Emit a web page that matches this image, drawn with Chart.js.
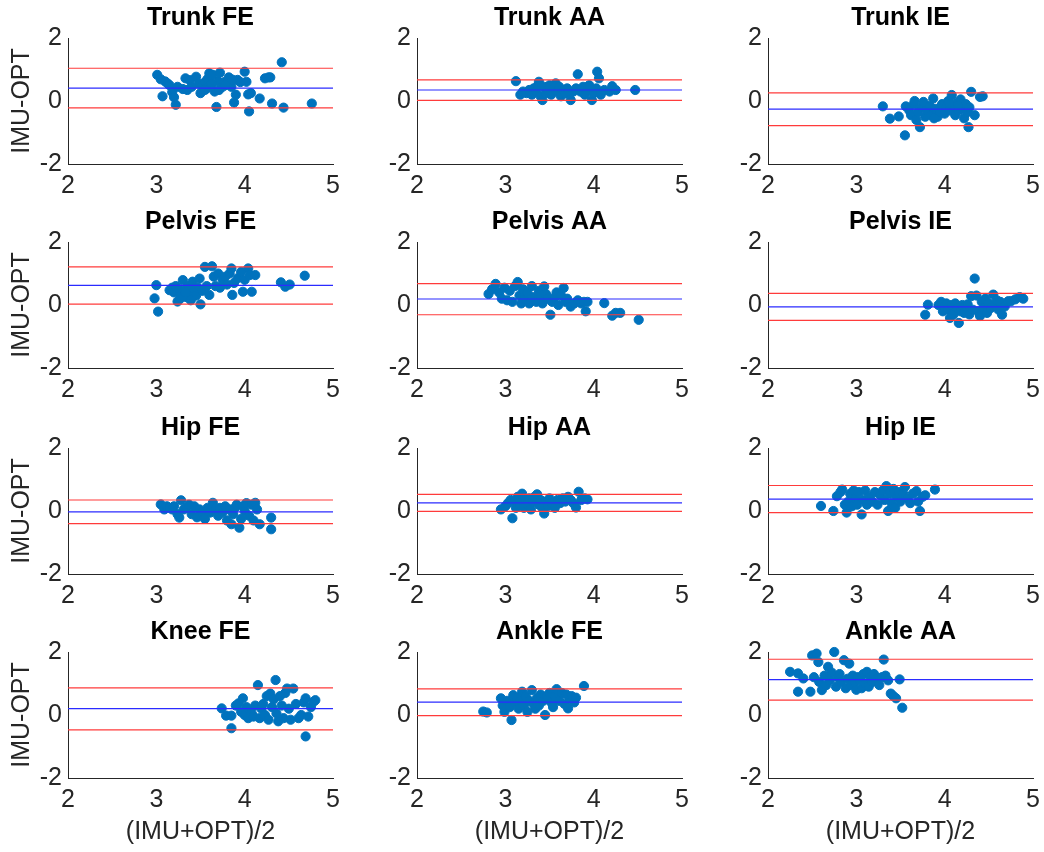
<!DOCTYPE html>
<html>
<head>
<meta charset="utf-8">
<script src="https://cdn.jsdelivr.net/npm/chart.js@4"></script>
<style>
  body { margin: 0; background: #fff; overflow: hidden; width: 1044px; height: 852px; position: relative; }
  canvas { position: absolute; }
</style>
</head>
<body>
<script>
// panel titles, row by row
const titles = ["Trunk FE", "Trunk AA", "Trunk IE",
                "Pelvis FE", "Pelvis AA", "Pelvis IE",
                "Hip FE", "Hip AA", "Hip IE",
                "Knee FE", "Ankle FE", "Ankle AA"];

// bias (blue) and limits of agreement (red), same order as titles
const meanDiff = [0.41, 0.35, -0.26, 0.62, 0.19, -0.06, -0.03, 0.26, 0.38, 0.20, 0.41, 1.12];
const upperLoA = [1.04, 0.67, 0.26, 1.21, 0.68, 0.37, 0.35, 0.53, 0.81, 0.86, 0.83, 1.77];
const lowerLoA = [-0.22, 0.02, -0.78, 0.03, -0.31, -0.49, -0.40, -0.01, -0.05, -0.47, -0.02, 0.47];

const xTicks = [2, 3, 4, 5];
const yTicks = [-2, 0, 2];
const xLabel = "(IMU+OPT)/2";
const yLabel = "IMU-OPT";

// (IMU+OPT)/2 and IMU-OPT per panel
const trunkFE_x = [3.01,3.05,3.07,3.10,3.13,3.15,3.18,3.20,3.22,3.24,3.30,3.33,3.35,3.38,3.40,3.45,3.48,3.50,3.52,3.55,3.57,3.58,3.60,3.62,3.64,3.66,3.68,3.70,3.72,3.75,3.77,3.80,3.82,3.85,3.88,3.90,3.92,3.95,4.00,4.02,4.04,4.05,4.07,4.17,4.23,4.27,4.29,4.31,4.42,4.44,4.76,3.55,3.63,3.71,3.78,3.86];
const trunkFE_y = [0.83,0.69,0.15,0.62,0.55,0.50,0.28,0.12,-0.12,0.45,0.38,0.72,0.35,0.66,0.45,0.77,0.55,0.25,0.50,0.60,0.40,0.70,0.88,0.55,0.83,0.30,-0.19,0.62,0.90,0.45,0.60,0.55,0.75,0.45,-0.05,0.20,0.67,0.60,0.93,0.61,0.21,-0.33,0.25,0.08,0.72,0.75,0.75,-0.08,1.23,-0.21,-0.08,0.35,0.55,0.35,0.50,0.68];

const trunkAA_x = [3.12,3.17,3.20,3.24,3.27,3.30,3.32,3.35,3.37,3.38,3.40,3.42,3.44,3.46,3.48,3.50,3.52,3.55,3.57,3.59,3.61,3.63,3.66,3.68,3.70,3.72,3.74,3.77,3.80,3.82,3.85,3.88,3.90,3.93,3.95,3.98,4.00,4.03,4.04,4.06,4.08,4.12,4.18,4.21,4.25,4.47];
const trunkAA_y = [0.63,0.20,0.30,0.25,0.35,0.20,0.40,0.30,0.50,0.61,0.15,0.03,0.45,0.25,0.35,0.50,0.20,0.40,0.56,0.30,0.45,0.15,0.35,0.25,0.40,0.30,0.03,0.30,0.40,0.85,0.30,0.45,0.20,0.35,0.50,0.03,0.25,0.40,0.93,0.72,0.20,0.35,0.30,0.47,0.35,0.35];

const trunkIE_x = [3.30,3.38,3.48,3.55,3.56,3.60,3.62,3.65,3.68,3.70,3.72,3.74,3.76,3.78,3.80,3.83,3.85,3.87,3.90,3.92,3.95,3.97,4.00,4.02,4.04,4.06,4.08,4.10,4.12,4.14,4.16,4.18,4.20,4.22,4.24,4.26,4.27,4.28,4.30,4.34,4.40,4.43,3.66,3.88,4.05,4.15];
const trunkIE_y = [-0.17,-0.56,-0.49,-1.09,-0.17,-0.30,-0.45,-0.10,-0.60,-0.35,-0.83,-0.20,-0.03,-0.50,-0.30,-0.15,-0.45,0.08,-0.25,-0.50,-0.35,-0.10,-0.40,-0.20,0.00,-0.30,0.19,-0.15,-0.45,-0.05,-0.30,0.05,-0.25,-0.55,-0.10,-0.35,-0.83,-0.20,0.29,-0.45,0.13,0.15,0.00,-0.55,-0.05,-0.15];

const pelvisFE_x = [2.98,3.00,3.02,3.15,3.18,3.20,3.22,3.24,3.26,3.28,3.30,3.32,3.34,3.36,3.38,3.41,3.43,3.45,3.47,3.49,3.50,3.52,3.55,3.57,3.60,3.63,3.65,3.67,3.70,3.72,3.75,3.78,3.80,3.83,3.85,3.86,3.88,3.92,3.96,3.98,4.00,4.04,4.06,4.08,4.12,4.41,4.46,4.51,4.68,3.27,3.33,3.39];
const pelvisFE_y = [0.21,0.63,-0.21,0.47,0.55,0.40,0.60,0.11,0.50,0.30,0.79,0.45,0.25,0.60,0.35,0.74,0.50,0.30,0.55,0.84,0.02,0.45,1.21,0.60,0.32,1.23,0.90,0.60,1.00,0.55,0.80,0.90,0.65,1.00,1.16,0.32,0.70,0.85,1.05,0.42,0.80,1.16,0.95,0.42,0.95,0.72,0.58,0.65,0.93,0.20,0.40,0.15];

const pelvisAA_x = [2.81,2.85,2.89,2.93,2.96,2.99,3.02,3.05,3.08,3.11,3.14,3.16,3.18,3.20,3.22,3.25,3.27,3.30,3.32,3.35,3.38,3.40,3.42,3.44,3.46,3.48,3.51,3.53,3.56,3.58,3.60,3.63,3.66,3.68,3.70,3.74,3.78,3.82,3.86,3.89,3.91,3.93,4.12,4.21,4.25,4.30,4.51];
const pelvisAA_y = [0.35,0.50,0.67,0.40,0.20,0.55,0.15,0.45,0.10,0.60,0.73,0.30,0.05,0.50,0.20,0.40,0.05,0.60,0.25,0.10,0.45,0.30,0.05,0.59,0.35,0.20,-0.31,0.10,0.25,0.40,0.00,0.30,0.54,0.10,0.20,-0.05,0.05,0.15,0.05,0.10,-0.20,0.10,0.06,-0.34,-0.25,-0.25,-0.47];

const pelvisIE_x = [3.78,3.81,3.93,3.96,3.98,4.00,4.02,4.04,4.06,4.08,4.10,4.12,4.14,4.16,4.18,4.20,4.22,4.24,4.26,4.28,4.30,4.32,4.34,4.36,4.38,4.40,4.42,4.44,4.46,4.48,4.50,4.52,4.55,4.57,4.59,4.61,4.63,4.65,4.68,4.72,4.75,4.80,4.85,4.89];
const pelvisIE_y = [-0.31,0.01,0.00,0.10,-0.20,-0.05,0.05,-0.15,-0.41,0.00,-0.30,0.05,-0.10,-0.57,-0.20,0.00,-0.25,-0.05,0.02,-0.30,0.28,-0.15,0.84,0.30,-0.20,-0.35,0.10,-0.10,0.20,-0.25,0.05,-0.10,0.33,0.00,0.15,-0.15,0.10,-0.31,-0.05,0.12,0.12,0.18,0.25,0.20];

const hipFE_x = [3.05,3.09,3.12,3.15,3.18,3.20,3.24,3.26,3.28,3.31,3.34,3.37,3.40,3.43,3.46,3.49,3.52,3.55,3.58,3.61,3.64,3.67,3.70,3.72,3.75,3.78,3.80,3.83,3.85,3.87,3.89,3.91,3.94,3.96,3.98,4.00,4.02,4.05,4.08,4.10,4.12,4.14,4.17,4.30,4.30];
const hipFE_y = [0.21,0.05,0.15,0.10,0.05,0.15,-0.10,-0.21,0.34,0.05,0.10,0.20,-0.10,0.15,-0.20,0.05,-0.05,-0.25,0.10,-0.05,0.26,0.05,-0.15,0.10,-0.05,0.15,-0.30,0.05,-0.42,-0.10,0.10,0.20,-0.53,-0.25,0.15,0.00,0.25,-0.15,0.20,-0.30,0.26,0.05,-0.42,-0.21,-0.58];

const hipAA_x = [2.95,3.00,3.03,3.06,3.08,3.10,3.12,3.14,3.16,3.19,3.21,3.23,3.25,3.27,3.29,3.31,3.33,3.36,3.38,3.40,3.42,3.44,3.46,3.48,3.50,3.53,3.56,3.59,3.62,3.65,3.68,3.71,3.74,3.77,3.80,3.83,3.86,3.90,3.93];
const hipAA_y = [0.05,0.15,0.25,0.35,-0.23,0.30,0.10,0.45,0.25,0.55,0.10,0.35,0.20,0.40,0.05,0.30,0.45,0.53,0.20,0.35,0.10,-0.08,0.30,0.15,0.40,0.25,0.10,0.35,0.25,0.40,0.30,0.45,0.35,0.25,0.11,0.61,0.35,0.40,0.37];

const hipIE_x = [2.60,2.74,2.78,2.82,2.84,2.87,2.89,2.91,2.93,2.95,2.97,2.99,3.01,3.03,3.06,3.08,3.10,3.12,3.15,3.18,3.21,3.24,3.27,3.30,3.32,3.34,3.36,3.38,3.40,3.42,3.44,3.46,3.48,3.50,3.53,3.55,3.58,3.61,3.64,3.68,3.70,3.72,3.75,3.78,3.89];
const hipIE_y = [0.16,0.00,0.47,0.60,0.68,0.20,-0.05,0.30,0.55,0.15,0.65,0.40,0.20,0.60,-0.11,0.35,0.65,0.20,0.45,0.30,0.60,0.20,0.50,0.65,0.35,0.79,0.00,0.55,0.25,0.70,0.10,0.45,0.60,0.30,0.55,0.76,0.40,0.25,0.55,0.63,0.30,0.00,0.45,0.50,0.68];

const kneeFE_x = [3.74,3.79,3.85,3.85,3.90,3.93,3.96,3.98,4.00,4.02,4.04,4.06,4.08,4.10,4.12,4.15,4.17,4.19,4.21,4.23,4.25,4.27,4.29,4.31,4.33,4.35,4.36,4.38,4.40,4.42,4.44,4.46,4.48,4.50,4.52,4.55,4.58,4.61,4.64,4.67,4.69,4.69,4.72,4.75,4.78,4.80];
const kneeFE_y = [0.21,-0.02,-0.02,-0.42,0.30,0.37,0.10,0.53,0.00,0.25,-0.10,0.15,0.05,-0.05,0.30,0.95,-0.10,0.20,0.35,0.00,0.60,-0.15,0.68,0.25,0.50,1.11,0.05,-0.20,0.60,0.30,-0.10,0.70,0.84,0.20,-0.15,0.84,0.35,-0.10,0.00,0.40,-0.68,0.53,-0.05,0.25,0.42,0.47];

const ankleFE_x = [2.75,2.79,2.95,2.97,2.99,3.02,3.05,3.07,3.09,3.11,3.13,3.15,3.17,3.19,3.21,3.23,3.25,3.27,3.30,3.32,3.34,3.36,3.38,3.40,3.43,3.45,3.47,3.50,3.52,3.54,3.56,3.58,3.61,3.64,3.67,3.69,3.71,3.73,3.75,3.78,3.80,3.89];
const ankleFE_y = [0.11,0.08,0.53,0.30,0.10,0.45,0.25,-0.16,0.63,0.40,0.55,0.20,0.45,0.74,0.30,0.60,0.10,0.45,0.79,0.35,0.20,0.55,0.30,0.65,0.45,0.00,0.60,0.70,0.40,0.25,0.60,0.82,0.45,0.70,0.35,0.65,0.21,0.50,0.60,0.40,0.55,0.92];

const ankleAA_x = [2.25,2.34,2.34,2.40,2.48,2.50,2.52,2.55,2.57,2.58,2.61,2.64,2.66,2.68,2.70,2.72,2.75,2.77,2.79,2.81,2.83,2.86,2.88,2.90,2.92,2.94,2.96,2.98,3.00,3.02,3.04,3.06,3.08,3.10,3.12,3.14,3.16,3.18,3.20,3.23,3.26,3.29,3.31,3.33,3.36,3.39,3.42,3.45,3.49,3.52];
const ankleAA_y = [1.37,1.32,0.74,1.16,0.74,1.89,1.20,1.95,1.68,1.05,0.79,1.25,0.95,1.53,1.10,1.35,2.00,0.90,1.20,1.30,1.05,1.74,0.85,1.15,1.63,0.95,1.25,1.05,0.80,1.20,1.10,0.85,1.30,1.00,1.37,0.90,1.20,1.05,1.30,1.15,0.95,1.20,1.76,1.25,1.10,0.68,0.60,0.53,1.13,0.23];

const xs = [trunkFE_x, trunkAA_x, trunkIE_x, pelvisFE_x, pelvisAA_x, pelvisIE_x,
            hipFE_x, hipAA_x, hipIE_x, kneeFE_x, ankleFE_x, ankleAA_x];
const ys = [trunkFE_y, trunkAA_y, trunkIE_y, pelvisFE_y, pelvisAA_y, pelvisIE_y,
            hipFE_y, hipAA_y, hipIE_y, kneeFE_y, ankleFE_y, ankleAA_y];

// page layout of the grid
const colLeft = [0, 349, 700];
const rowTop = [0, 204, 410, 614];
const FONT = "'Liberation Sans', Arial, Helvetica, sans-serif";
const TXT = "#262626";

function hline(v, color) {
  return {
    type: "line",
    data: [{ x: xTicks[0], y: v }, { x: xTicks[xTicks.length - 1], y: v }],
    borderColor: color,
    borderWidth: 1.2,
    pointRadius: 0,
    order: 0
  };
}

function makePanel(i) {
  const row = Math.floor(i / 3), col = i % 3;
  const cv = document.createElement("canvas");
  cv.width = 347; cv.height = 236;
  cv.style.left = colLeft[col] + "px";
  cv.style.top = rowTop[row] + "px";
  cv.style.width = "347px"; cv.style.height = "236px";
  document.body.appendChild(cv);

  const pts = xs[i].map((x, k) => ({ x: x, y: ys[i][k] }));

  new Chart(cv.getContext("2d"), {
    type: "scatter",
    data: {
      datasets: [
        hline(upperLoA[i], "#ff3b3b"),
        hline(meanDiff[i], "#2b2bff"),
        hline(lowerLoA[i], "#ff3b3b"),
        {
          type: "scatter",
          data: pts,
          backgroundColor: "#0072BD",
          borderColor: "#0072BD",
          borderWidth: 1,
          pointRadius: 4.6,
          clip: false,
          order: 1
        }
      ]
    },
    options: {
      responsive: false,
      animation: false,
      devicePixelRatio: 1,
      layout: { padding: { top: 0, left: 0, right: 14, bottom: 0 } },
      plugins: {
        legend: { display: false },
        tooltip: { enabled: false },
        title: {
          display: true,
          text: titles[i],
          fullSize: false,
          color: "#000",
          font: { family: FONT, size: 25, weight: "bold" },
          padding: { top: 3, bottom: 5 }
        }
      },
      scales: {
        x: {
          type: "linear",
          min: xTicks[0],
          max: xTicks[xTicks.length - 1],
          afterFit: s => { s.height = 72; },
          grid: { display: false, drawTicks: false },
          border: { display: true, color: TXT, width: 1 },
          ticks: { stepSize: 1, padding: 7, color: TXT, font: { family: FONT, size: 25 } },
          title: {
            display: row === 3,
            text: xLabel,
            color: TXT,
            font: { family: FONT, size: 25 },
            padding: { top: 0, bottom: 3 }
          }
        },
        y: {
          type: "linear",
          min: yTicks[0],
          max: yTicks[yTicks.length - 1],
          afterFit: s => { s.width = 68; },
          grid: { display: false, drawTicks: false },
          border: { display: true, color: TXT, width: 1 },
          ticks: { stepSize: 2, padding: 6, color: TXT, font: { family: FONT, size: 25 } },
          title: {
            display: col === 0,
            text: yLabel,
            color: TXT,
            font: { family: FONT, size: 25 },
            padding: { top: 7, bottom: 0 }
          }
        }
      }
    }
  });
}

for (let i = 0; i < titles.length; i++) makePanel(i);
</script>
</body>
</html>
